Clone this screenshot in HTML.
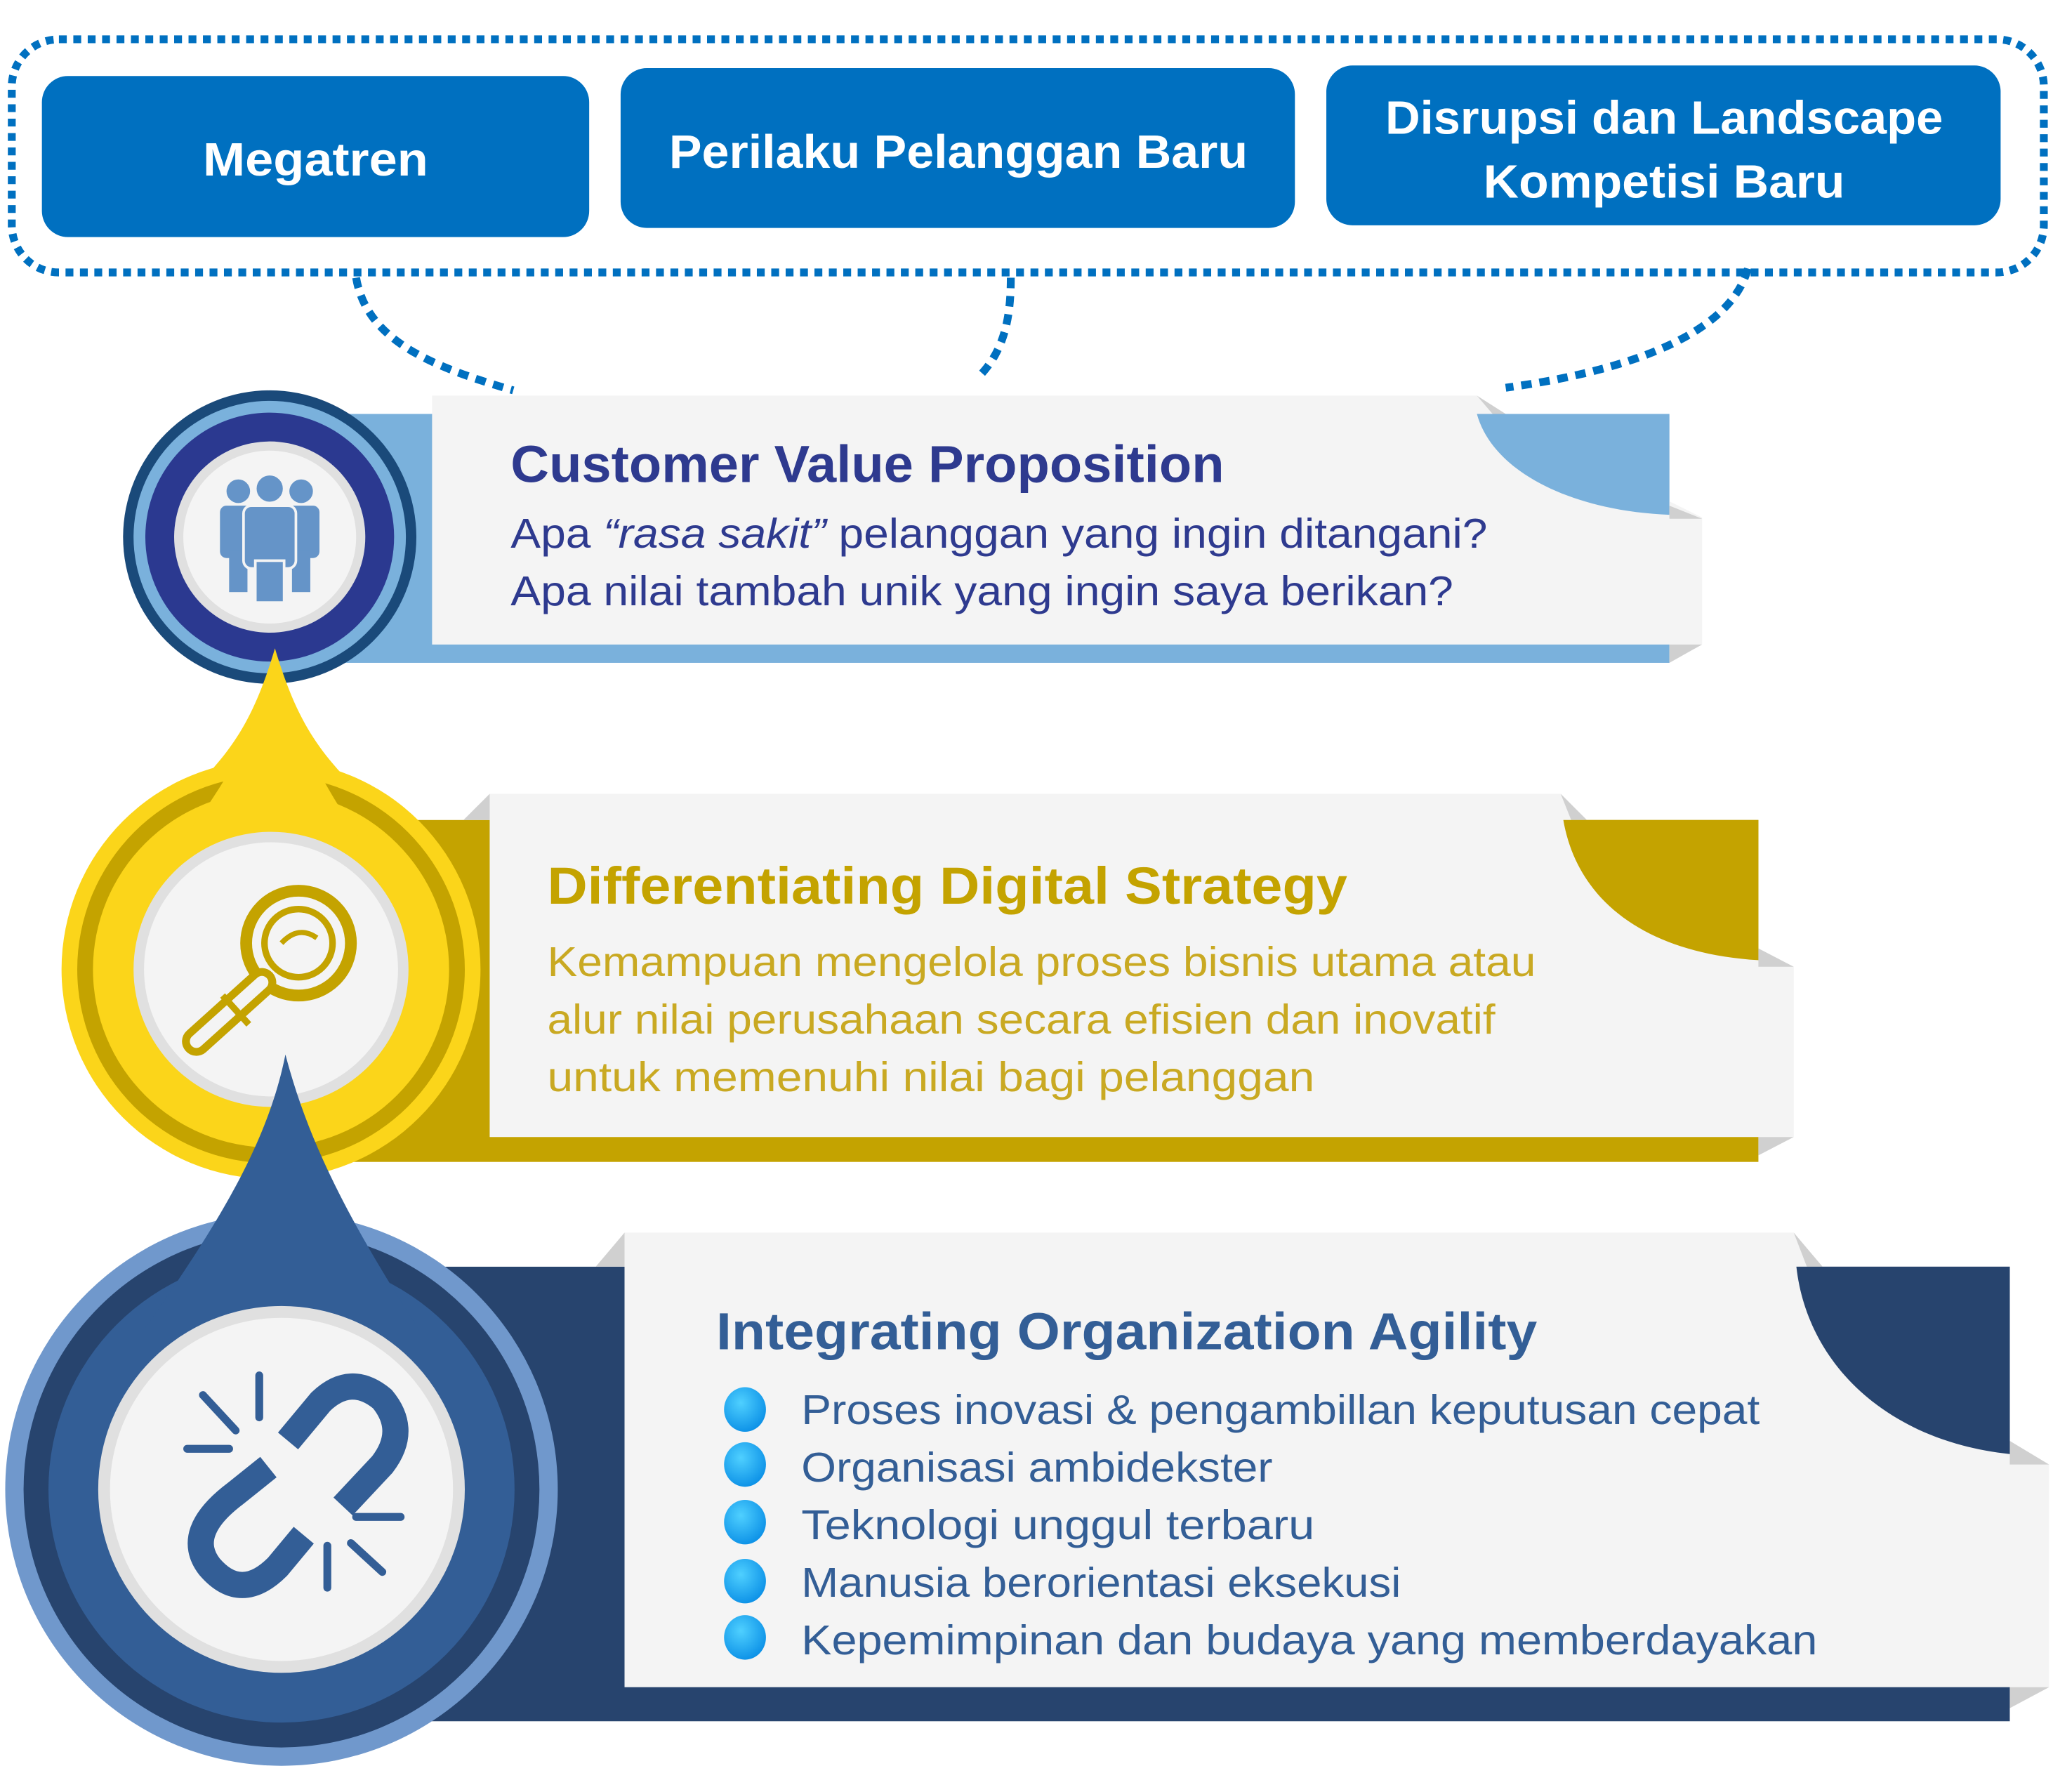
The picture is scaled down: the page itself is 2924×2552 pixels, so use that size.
<!DOCTYPE html>
<html><head><meta charset="utf-8"><style>
html,body{margin:0;padding:0;background:#fff;}
svg{display:block;}
text{font-family:"Liberation Sans",sans-serif;}
</style></head><body>
<svg width="2924" height="2552" viewBox="0 0 1568 1368" preserveAspectRatio="none" xmlns="http://www.w3.org/2000/svg">
<defs>
<radialGradient id="bul" cx="0.4" cy="0.35" r="0.7"><stop offset="0" stop-color="#4fd0ff"/><stop offset="1" stop-color="#0a8fe6"/></radialGradient>
</defs>
<rect x="9" y="30" width="1552" height="178" rx="36" fill="none" stroke="#0070c0" stroke-width="6" stroke-dasharray="6 5"/>
<path d="M272,212 C280,260 330,280 392,298" fill="none" stroke="#0070c0" stroke-width="6" stroke-dasharray="8 6"/>
<path d="M772,212 C772,240 768,265 750,285" fill="none" stroke="#0070c0" stroke-width="6" stroke-dasharray="8 6"/>
<path d="M1335,205 C1320,260 1230,285 1150,296" fill="none" stroke="#0070c0" stroke-width="6" stroke-dasharray="8 6"/>
<rect x="32" y="58" width="418" height="123" rx="20" fill="#0070c0"/>
<rect x="474" y="52" width="515" height="122" rx="20" fill="#0070c0"/>
<rect x="1013" y="50" width="515" height="122" rx="20" fill="#0070c0"/>
<g fill="#fff" font-weight="bold" font-size="36">
<text x="241" y="134" text-anchor="middle" textLength="172" lengthAdjust="spacingAndGlyphs">Megatren</text>
<text x="732" y="128" text-anchor="middle" textLength="442" lengthAdjust="spacingAndGlyphs">Perilaku Pelanggan Baru</text>
<text x="1271" y="102" text-anchor="middle" textLength="426" lengthAdjust="spacingAndGlyphs">Disrupsi dan Landscape</text>
<text x="1271" y="151" text-anchor="middle" textLength="276" lengthAdjust="spacingAndGlyphs">Kompetisi Baru</text>
</g>

<rect x="230" y="316" width="1045" height="190" fill="#7ab1dc"/>
<path d="M330,302 L1128,302 L1148,316 L1148,320 L1300,395 L1300,492 L330,492 Z" fill="#f4f4f4"/>
<polygon points="1128,302 1150,316 1140,316" fill="#d0d0d0"/>
<path d="M1128,316 L1275,316 L1275,393 C1200,390 1140,360 1128,316 Z" fill="#7ab1dc"/>
<polygon points="1275,386 1300,396 1275,396" fill="#d0d0d0"/>
<polygon points="1275,492 1300,492 1275,506" fill="#d0d0d0"/>
<text x="390" y="368" font-size="40" font-weight="bold" fill="#2e3a8f" textLength="545" lengthAdjust="spacingAndGlyphs">Customer Value Proposition</text>
<text x="390" y="418" font-size="32" fill="#2e3a8f" textLength="746" lengthAdjust="spacingAndGlyphs">Apa <tspan font-style="italic">“rasa sakit”</tspan> pelanggan yang ingin ditangani?</text>
<text x="390" y="462" font-size="32" fill="#2e3a8f" textLength="720" lengthAdjust="spacingAndGlyphs">Apa nilai tambah unik yang ingin saya berikan?</text>
<circle cx="206" cy="410" r="112" fill="#1a4a7a"/>
<circle cx="206" cy="410" r="104" fill="#7ab1dc"/>
<circle cx="206" cy="410" r="95" fill="#2b3990"/>
<circle cx="206" cy="410" r="73" fill="#e0e0e0"/>
<circle cx="206" cy="410" r="66" fill="#f4f4f4"/>
<g fill="#6594c8">
<circle cx="182" cy="375" r="9"/><circle cx="230" cy="375" r="9"/>
<rect x="168" y="386" width="28" height="40" rx="5"/><rect x="216" y="386" width="28" height="40" rx="5"/>
<rect x="175" y="420" width="14" height="32"/><rect x="223" y="420" width="14" height="32"/>
<circle cx="206" cy="373" r="11" stroke="#f4f4f4" stroke-width="2"/>
<rect x="186" y="386" width="40" height="48" rx="6" stroke="#f4f4f4" stroke-width="2"/>
<rect x="195" y="428" width="22" height="32" stroke="#f4f4f4" stroke-width="2"/>
</g>

<rect x="230" y="626" width="1113" height="261" fill="#c4a300"/>
<path d="M374,606 L1192,606 L1210,626 L1343,733 L1370,738 L1370,868 L374,868 Z" fill="#f4f4f4"/>
<polygon points="354,626 374,606 374,626" fill="#d0d0d0"/>
<polygon points="1192,606 1212,626 1200,626" fill="#d0d0d0"/>
<path d="M1194,626 L1343,626 L1343,733 C1260,728 1205,690 1194,626 Z" fill="#c4a300"/>
<polygon points="1343,724 1370,738 1343,738" fill="#d0d0d0"/>
<polygon points="1343,868 1370,868 1343,882" fill="#d0d0d0"/>
<text x="418" y="690" font-size="40" font-weight="bold" fill="#c4a300" textLength="611" lengthAdjust="spacingAndGlyphs">Differentiating Digital Strategy</text>
<g font-size="32" fill="#c9a922">
<text x="418" y="745" textLength="755" lengthAdjust="spacingAndGlyphs">Kemampuan mengelola proses bisnis utama atau</text>
<text x="418" y="789" textLength="724" lengthAdjust="spacingAndGlyphs">alur nilai perusahaan secara efisien dan inovatif</text>
<text x="418" y="833" textLength="586" lengthAdjust="spacingAndGlyphs">untuk memenuhi nilai bagi pelanggan</text>
</g>
<circle cx="207" cy="740" r="160" fill="#fbd51a"/>
<path d="M210,495 C195,545 180,570 150,600 L270,600 C240,570 225,545 210,495 Z" fill="#fbd51a"/>
<circle cx="207" cy="740" r="148" fill="#c4a300"/>
<circle cx="207" cy="740" r="136" fill="#fbd51a"/>
<path d="M210,495 C200,545 180,590 140,640 L275,640 C240,590 220,545 210,495 Z" fill="#fbd51a"/>
<circle cx="207" cy="740" r="105" fill="#e0e0e0"/>
<circle cx="207" cy="740" r="97" fill="#f4f4f4"/>
<g fill="none" stroke="#c4a300">
<circle cx="228" cy="720" r="40" stroke-width="9"/>
<circle cx="228" cy="720" r="26" stroke-width="5"/>
<path d="M215,720 Q228,706 242,716" stroke-width="4"/>
<path d="M200,750 L150,795" stroke-width="22" stroke-linecap="round"/>
</g>
<path d="M200,750 L150,795" stroke="#f4f4f4" stroke-width="10" stroke-linecap="round"/>
<path d="M170,760 L190,782" stroke="#c4a300" stroke-width="5"/>

<rect x="300" y="967" width="1235" height="347" fill="#27446e"/>
<path d="M477,941 L1370,941 L1390,967 L1535,1110 L1565,1118 L1565,1288 L477,1288 Z" fill="#f4f4f4"/>
<polygon points="455,967 477,941 477,967" fill="#d0d0d0"/>
<polygon points="1370,941 1392,967 1380,967" fill="#d0d0d0"/>
<path d="M1372,967 L1535,967 L1535,1110 C1440,1100 1380,1040 1372,967 Z" fill="#27446e"/>
<polygon points="1535,1100 1565,1118 1535,1118" fill="#d0d0d0"/>
<polygon points="1535,1288 1565,1288 1535,1304" fill="#d0d0d0"/>
<text x="547" y="1030" font-size="40" font-weight="bold" fill="#335e96" textLength="627" lengthAdjust="spacingAndGlyphs">Integrating Organization Agility</text>
<g fill="url(#bul)">
<ellipse cx="569" cy="1076" rx="16" ry="17"/><ellipse cx="569" cy="1118" rx="16" ry="17"/><ellipse cx="569" cy="1162" rx="16" ry="17"/><ellipse cx="569" cy="1207" rx="16" ry="17"/><ellipse cx="569" cy="1250" rx="16" ry="17"/>
</g>
<g font-size="32" fill="#335e96">
<text x="612" y="1087" textLength="732" lengthAdjust="spacingAndGlyphs">Proses inovasi &amp; pengambillan keputusan cepat</text>
<text x="612" y="1131" textLength="360" lengthAdjust="spacingAndGlyphs">Organisasi ambidekster</text>
<text x="612" y="1175" textLength="392" lengthAdjust="spacingAndGlyphs">Teknologi unggul terbaru</text>
<text x="612" y="1219" textLength="458" lengthAdjust="spacingAndGlyphs">Manusia berorientasi eksekusi</text>
<text x="612" y="1263" textLength="776" lengthAdjust="spacingAndGlyphs">Kepemimpinan dan budaya yang memberdayakan</text>
</g>
<circle cx="215" cy="1137" r="211" fill="#7098cc"/>
<circle cx="215" cy="1137" r="197" fill="#27446e"/>
<circle cx="215" cy="1137" r="178" fill="#335e96"/>
<path d="M218,805 C205,870 170,930 110,1015 L320,1015 C265,930 235,870 218,805 Z" fill="#335e96"/>
<circle cx="215" cy="1137" r="140" fill="#e0e0e0"/>
<circle cx="215" cy="1137" r="131" fill="#f4f4f4"/>
<g fill="none" stroke="#335e96" stroke-width="20" stroke-linejoin="round">
<path d="M220,1100 L245,1070 Q268,1048 292,1068 Q312,1092 292,1118 L262,1150"/>
<path d="M205,1120 L180,1140 Q140,1170 160,1196 Q184,1224 212,1196 L232,1172"/>
</g>
<g stroke="#335e96" stroke-width="6" stroke-linecap="round">
<path d="M198,1050 L198,1082"/><path d="M155,1065 L180,1092"/><path d="M143,1106 L175,1106"/>
<path d="M272,1158 L306,1158"/><path d="M268,1178 L292,1200"/><path d="M250,1180 L250,1212"/>
</g>
</svg>
</body></html>
